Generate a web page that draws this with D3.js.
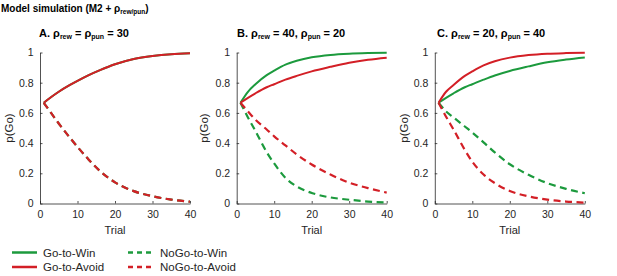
<!DOCTYPE html>
<html>
<head>
<meta charset="utf-8">
<script src="https://cdn.jsdelivr.net/npm/d3@7"></script>
<style>
    body { margin: 0; background: #fff; }
    svg { font-family: "Liberation Sans", Arial, sans-serif; }
    .axis path, .axis line { stroke: #262626; stroke-width: 0.8; }
    .axis text { fill: #262626; font-size: 10.5px; }
</style>
</head>
<body>
<div id="chart"></div>
<script>
// Data
const trials = [1, 3, 5, 8, 10, 13, 16, 20, 25, 30, 35, 40];
const xTicks = [0, 10, 20, 30, 40];
const yTicks = [0, 0.2, 0.4, 0.6, 0.8, 1];

const panelLetters = ["A.", "B.", "C."];
const rhoRew = [30, 40, 20];
const rhoPun = [30, 20, 40];

const seriesNames = ["Go-to-Win", "Go-to-Avoid", "NoGo-to-Win", "NoGo-to-Avoid"];
const seriesColors = ["#1c9a3d", "#d31f26", "#1c9a3d", "#d31f26"];
const seriesDashed = [false, false, true, true];

// Panel A (same rates: green lies under red)
const aGoWin      = [0.667, 0.705, 0.740, 0.785, 0.812, 0.850, 0.883, 0.922, 0.957, 0.977, 0.989, 0.995];
const aGoAvoid    = [0.667, 0.705, 0.740, 0.785, 0.812, 0.850, 0.883, 0.922, 0.957, 0.977, 0.989, 0.995];
const aNoGoWin    = [0.667, 0.598, 0.530, 0.435, 0.375, 0.290, 0.215, 0.140, 0.082, 0.048, 0.026, 0.012];
const aNoGoAvoid  = [0.667, 0.598, 0.530, 0.435, 0.375, 0.290, 0.215, 0.140, 0.082, 0.048, 0.026, 0.012];

// Panel B
const bGoWin      = [0.667, 0.740, 0.790, 0.850, 0.880, 0.920, 0.945, 0.968, 0.984, 0.992, 0.996, 0.998];
const bGoAvoid    = [0.667, 0.700, 0.730, 0.770, 0.790, 0.820, 0.845, 0.875, 0.905, 0.932, 0.952, 0.966];
const bNoGoWin    = [0.667, 0.570, 0.480, 0.340, 0.265, 0.170, 0.113, 0.070, 0.040, 0.025, 0.013, 0.006];
const bNoGoAvoid  = [0.667, 0.610, 0.555, 0.490, 0.445, 0.385, 0.325, 0.258, 0.192, 0.138, 0.102, 0.072];

// Panel C
const cGoWin      = [0.667, 0.700, 0.730, 0.770, 0.790, 0.820, 0.848, 0.878, 0.908, 0.935, 0.953, 0.967];
const cGoAvoid    = [0.667, 0.740, 0.785, 0.845, 0.875, 0.915, 0.942, 0.966, 0.983, 0.992, 0.996, 0.998];
const cNoGoWin    = [0.667, 0.610, 0.570, 0.510, 0.470, 0.405, 0.338, 0.260, 0.190, 0.135, 0.097, 0.068];
const cNoGoAvoid  = [0.667, 0.575, 0.490, 0.355, 0.277, 0.192, 0.135, 0.083, 0.047, 0.026, 0.013, 0.006];

const panelSeries = [
    [aGoWin, aGoAvoid, aNoGoWin, aNoGoAvoid],
    [bGoWin, bGoAvoid, bNoGoWin, bNoGoAvoid],
    [cGoWin, cGoAvoid, cNoGoWin, cNoGoAvoid]
];

function createChart() {
    const W = 617, H = 276;
    const panelLeft = [40, 236.7, 434.8];
    const plotW = 150;
    const yTop = 52.5, yBottom = 203.5;

    const svg = d3.select("#chart")
        .append("svg")
        .attr("width", W)
        .attr("height", H);

    // Main title
    const title = svg.append("text")
        .attr("x", 1)
        .attr("y", 12)
        .style("font-size", "10px")
        .style("font-weight", "bold")
        .attr("fill", "#000");
    title.append("tspan").text("Model simulation (M2 + ρ");
    title.append("tspan").attr("dy", 2).style("font-size", "6.5px").text("rew/pun");
    title.append("tspan").attr("dy", -2).text(")");

    const y = d3.scaleLinear().domain([0, 1]).range([yBottom, yTop]);

    panelLetters.forEach((letter, i) => {
        const x = d3.scaleLinear()
            .domain([0, 40])
            .range([panelLeft[i], panelLeft[i] + plotW]);

        const g = svg.append("g");

        // Axes
        g.append("g")
            .attr("class", "axis")
            .attr("transform", `translate(0,${yBottom})`)
            .call(d3.axisBottom(x).tickValues(xTicks).tickSizeInner(-2.5).tickSizeOuter(0).tickPadding(7));

        g.append("g")
            .attr("class", "axis")
            .attr("transform", `translate(${panelLeft[i]},0)`)
            .call(d3.axisLeft(y).tickValues(yTicks).tickSizeInner(-2.5).tickSizeOuter(0).tickPadding(6.5)
                .tickFormat(d => d === 0 || d === 1 ? d3.format("d")(d) : d3.format(".1f")(d)));

        g.selectAll(".axis").attr("font-size", null).attr("font-family", null);

        // Axis labels
        g.append("text")
            .attr("x", panelLeft[i] + plotW / 2)
            .attr("y", 234)
            .attr("text-anchor", "middle")
            .style("font-size", "11px")
            .attr("fill", "#262626")
            .text("Trial");

        const ylabX = [12.5, 207.5, 407.5][i];
        g.append("text")
            .attr("transform", `translate(${ylabX},${(yTop + yBottom) / 2}) rotate(-90)`)
            .attr("text-anchor", "middle")
            .style("font-size", "11.5px")
            .attr("fill", "#262626")
            .text("p(Go)");

        // Panel title
        const pt = g.append("text")
            .attr("x", [39, 237, 437][i])
            .attr("y", 37)
            .style("font-size", "11px")
            .style("font-weight", "bold")
            .attr("fill", "#000");
        pt.append("tspan").text(letter + " ρ");
        pt.append("tspan").attr("dy", 2).style("font-size", "7px").text("rew");
        if (i === 0) {
            pt.append("tspan").attr("dy", -2).text(" = ρ");
            pt.append("tspan").attr("dy", 2).style("font-size", "7px").text("pun");
            pt.append("tspan").attr("dy", -2).text(" = " + rhoRew[i]);
        } else {
            pt.append("tspan").attr("dy", -2).text(" = " + rhoRew[i] + ", ρ");
            pt.append("tspan").attr("dy", 2).style("font-size", "7px").text("pun");
            pt.append("tspan").attr("dy", -2).text(" = " + rhoPun[i]);
        }

        // Lines
        const line = d3.line()
            .x((d, k) => x(trials[k]))
            .y(d => y(d))
            .curve(d3.curveMonotoneX);

        const order = [2, 3, 0, 1];
        order.forEach(s => {
            g.append("path")
                .datum(panelSeries[i][s])
                .attr("d", line)
                .attr("fill", "none")
                .attr("stroke", seriesColors[s])
                .attr("stroke-width", seriesDashed[s] ? 2.2 : 2)
                .attr("stroke-dasharray", seriesDashed[s] ? "7,4.5" : null);
        });
    });

    // Legend
    const legX = [12, 128];
    const legY = [252.5, 267];
    seriesNames.forEach((name, s) => {
        const col = s < 2 ? 0 : 1;
        const row = s % 2;
        const lg = svg.append("g")
            .attr("transform", `translate(${legX[col]},${legY[row]})`);
        lg.append("line")
            .attr("x1", 0).attr("x2", 25)
            .attr("y1", 0).attr("y2", 0)
            .attr("stroke", seriesColors[s])
            .attr("stroke-width", 2.5)
            .attr("stroke-dasharray", seriesDashed[s] ? "5,4" : null);
        lg.append("text")
            .attr("x", col === 0 ? 31 : 32)
            .attr("y", 4)
            .style("font-size", "11.5px")
            .attr("fill", "#262626")
            .text(name);
    });
}

createChart();
</script>
</body>
</html>
